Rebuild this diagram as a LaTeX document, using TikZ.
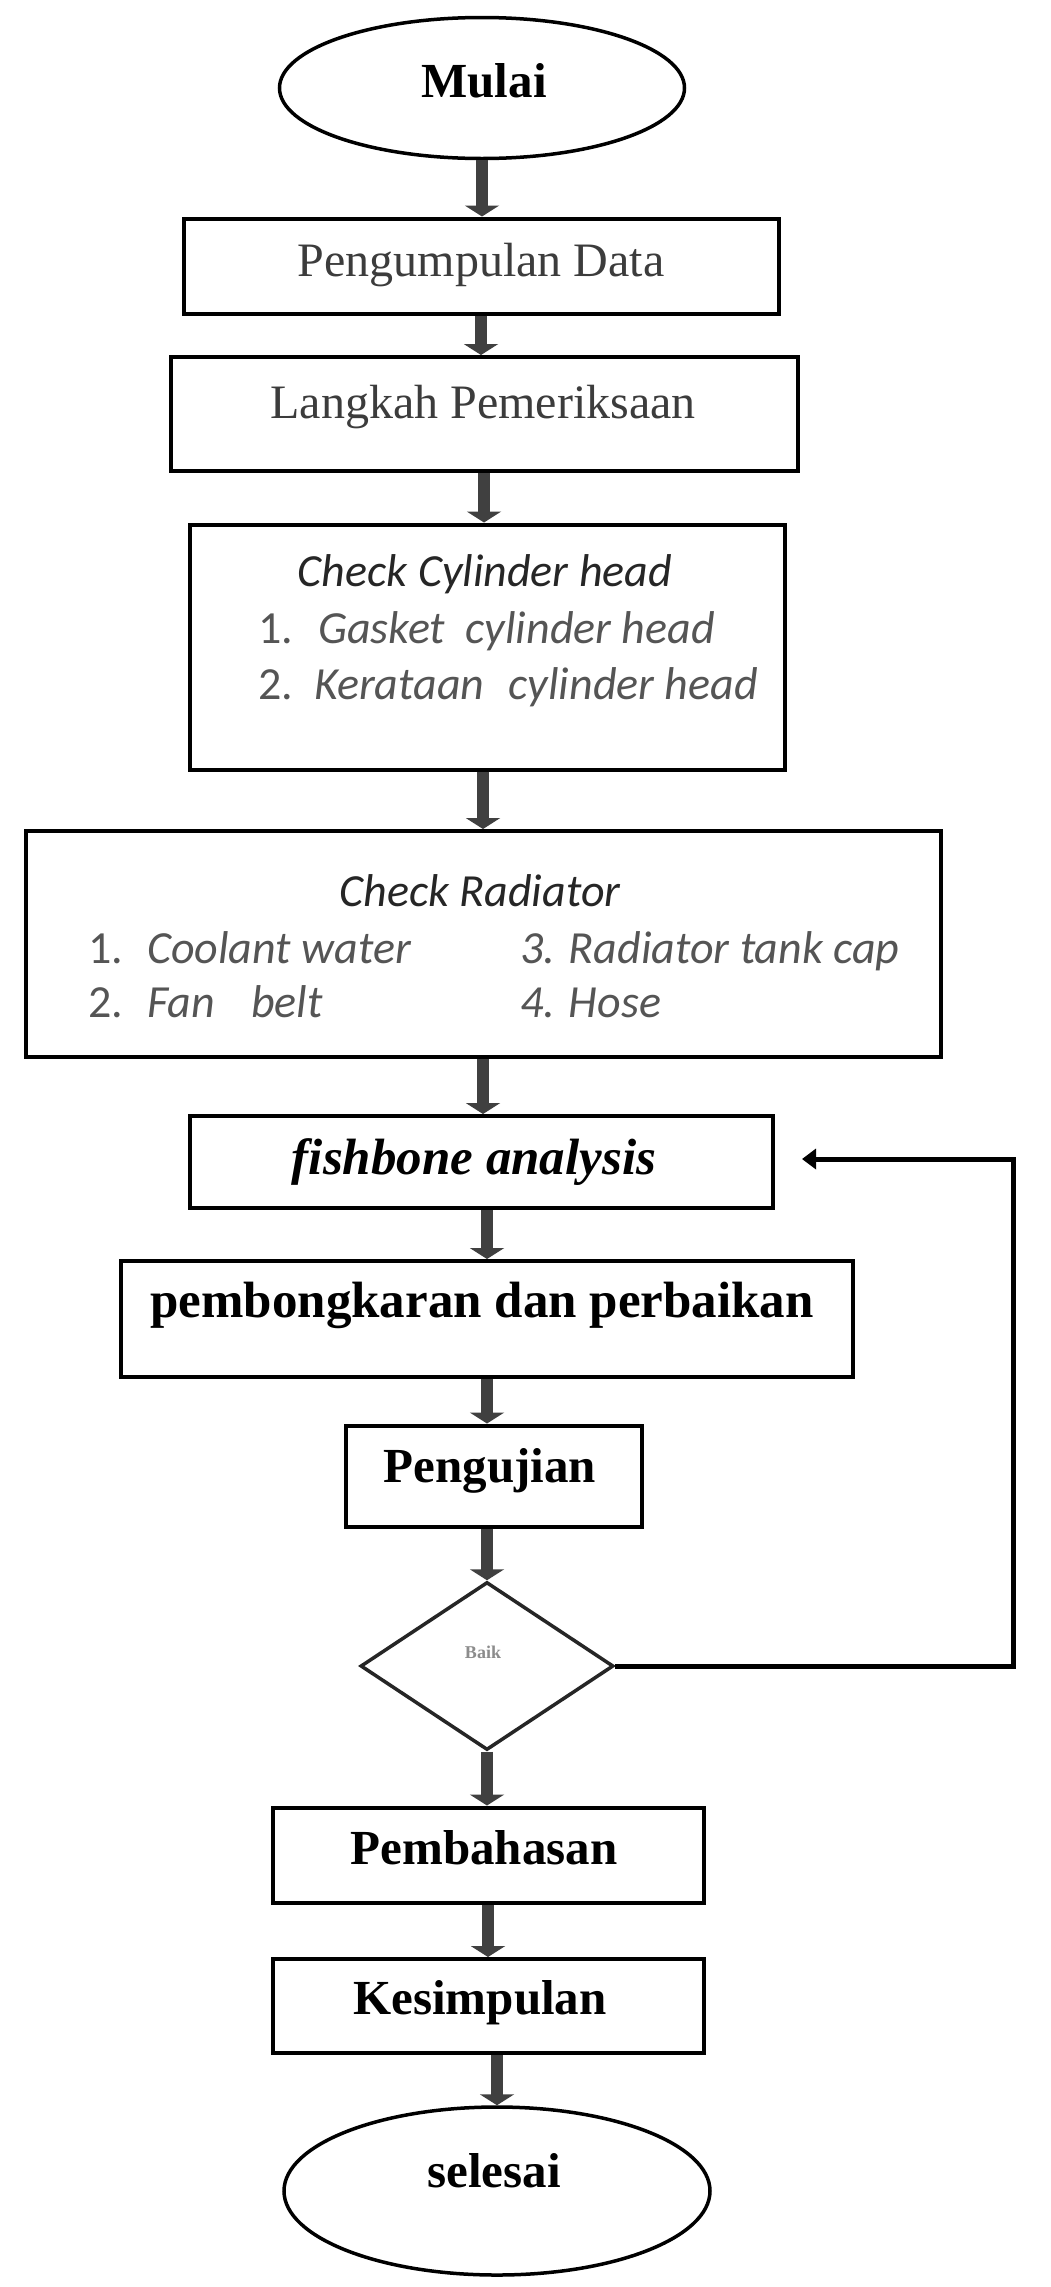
\documentclass[tikz,border=0pt]{standalone}
\usepackage{fontspec}
\setmainfont{Liberation Serif}
\newfontfamily\calibfont{Carlito}
\usetikzlibrary{shapes.geometric,arrows.meta}
\definecolor{arrowgray}{HTML}{404040}
\definecolor{textgray}{HTML}{3C3C3C}
\definecolor{listgray}{HTML}{555555}
\newcommand\fsz[1]{\fontsize{#1}{#1}\selectfont}
\tikzset{
  box/.style={draw=black, line width=4pt, rectangle, inner sep=0pt},
  term/.style={draw=black, line width=3.5pt, ellipse, inner sep=0pt},
  dec/.style={draw=black!85, line width=3.5pt, diamond, inner sep=0pt},
  flow/.style={draw=arrowgray, line width=12pt, -{Triangle[width=34pt,length=11pt]}},
  back/.style={draw=black, line width=5pt, -{Triangle[width=20pt,length=14pt]}},
  bigb/.style={font=\fsz{49}\bfseries, text=black, inner sep=0pt, anchor=base},
  bigr/.style={font=\fsz{48}, text=textgray, inner sep=0pt, anchor=base},
  bigi/.style={font=\fsz{51}\bfseries\itshape, text=black, inner sep=0pt, anchor=base},
  lst/.style={font=\calibfont\fsz{46}\itshape, text=listgray, inner sep=0pt, anchor=base west},
  lstnum/.style={font=\calibfont\fsz{46}, text=listgray, inner sep=0pt, anchor=base west},
  lsttitle/.style={font=\calibfont\fsz{46}\itshape, text=black!85, inner sep=0pt, anchor=base},
}
\begin{document}
\begin{tikzpicture}[x=1pt,y=-1pt]
\useasboundingbox[fill=white] (0,0) rectangle (1050,2287);

% shapes
\node[term, minimum width=405pt, minimum height=141pt] (start) at (482,88) {};
\node[box, minimum width=595pt, minimum height=95pt] (pd) at (481,266) {};
\node[box, minimum width=627pt, minimum height=114pt] (lp) at (484,414) {};
\node[box, minimum width=595pt, minimum height=245pt] (cc) at (487,647) {};
\node[box, minimum width=915pt, minimum height=226pt] (cr) at (483,944) {};
\node[box, minimum width=583pt, minimum height=92pt] (fa) at (481,1162) {};
\node[box, minimum width=732pt, minimum height=116pt] (pp) at (487,1319) {};
\node[box, minimum width=296pt, minimum height=101pt] (pg) at (494,1476) {};
\node[dec, minimum width=253pt, minimum height=168pt] (dc) at (487,1666) {};
\node[box, minimum width=431pt, minimum height=95pt] (pb) at (488,1855) {};
\node[box, minimum width=431pt, minimum height=94pt] (ks) at (488,2006) {};
\node[term, minimum width=426pt, minimum height=168pt] (fin) at (497,2191) {};

% texts
\node[bigb] (tstart) at (484,97) {Mulai};
\node[bigr] (tpd) at (481,276) {Pengumpulan Data};
\node[bigr] (tlp) at (483,418) {Langkah Pemeriksaan};

\node[lsttitle] (tcc) at (485,586) {Check Cylinder head};
\node[lstnum] (cc1n) at (258,643) {1.};
\node[lst] (cc1t) at (318,643) {Gasket\hspace{10pt} cylinder head};
\node[lstnum] (cc2n) at (258,699) {2.};
\node[lst] (cc2t) at (314,699) {Kerataan\hspace{14pt} cylinder head};

\node[lsttitle] (tcr) at (480,906) {Check Radiator};
\node[lstnum] (cr1n) at (88,963) {1.};
\node[lst] (cr1t) at (147,963) {Coolant water};
\node[lstnum] (cr2n) at (88,1017) {2.};
\node[lst] (cr2t) at (147,1017) {Fan\hspace{26pt} belt};
\node[lst] (cr3t) at (520,963) {3. Radiator tank cap};
\node[lst] (cr4t) at (520,1017) {4. Hose};

\node[bigi] (tfa) at (474,1174) {fishbone analysis};
\node[bigb, font=\fsz{51}\bfseries] (tpp) at (482,1317) {pembongkaran dan perbaikan};
\node[bigb] (tpg) at (490,1482) {Pengujian};
\node[font=\fsz{18}\bfseries, text=black!45, inner sep=0pt, anchor=base] (tdc) at (483,1658) {Baik};
\node[bigb] (tpb) at (484,1864) {Pembahasan};
\node[bigb] (tks) at (480,2014) {Kesimpulan};
\node[bigb] (tfin) at (494,2187) {selesai};

% connectors
\draw[flow] (start.south) -- (start.south |- pd.north);
\draw[flow] (pd.south) -- (pd.south |- lp.north);
\draw[flow] (lp.south) -- (lp.south |- cc.north);
\draw[flow] (cr.north |- cc.south) -- (cr.north);
\draw[flow] (cr.south) -- (cr.south |- fa.north);
\draw[flow] (pp.north |- fa.south) -- (pp.north);
\draw[flow] (pp.south) -- (pp.south |- pg.north);
\draw[flow] (dc.north |- pg.south) -- (dc.north);
\draw[flow] (dc.south) -- (dc.south |- pb.north);
\draw[flow] (pb.south) -- (pb.south |- ks.north);
\draw[flow] (fin.north |- ks.south) -- (fin.north);

\coordinate (fbtop) at (1013,1159);
\coordinate (fbend) at (802,1159);
\draw[back] (dc.east) -| (fbtop) -- (fbend);
\end{tikzpicture}
\end{document}
